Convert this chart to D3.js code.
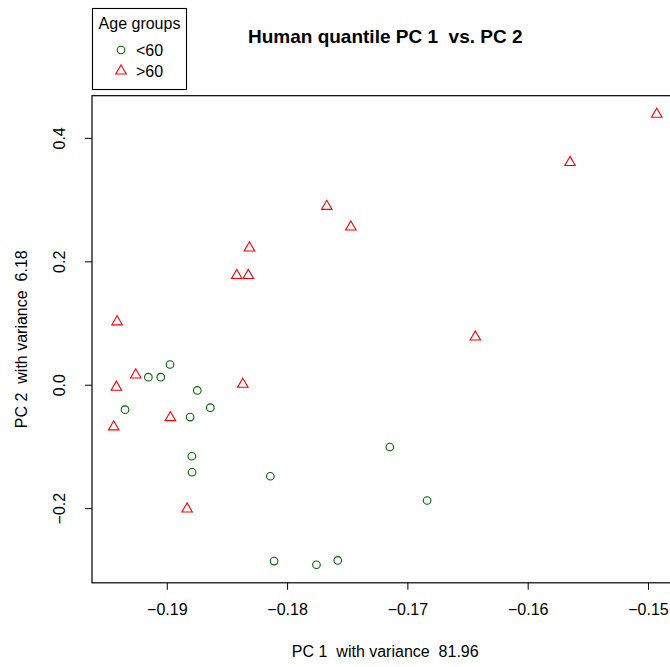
<!DOCTYPE html>
<html><head><meta charset="utf-8">
<script src="https://cdn.jsdelivr.net/npm/d3@7"></script>
<style>body{margin:0;background:#fff}svg{display:block}text{font-family:"Liberation Sans",Arial,sans-serif;white-space:pre}</style>
</head><body><div id="chart"></div>
<script>
const groups = ["<60", ">60"];
const groupColors = ["#006400", "#ff0000"];
const youngPC1 = [-0.19153,-0.19050,-0.18973,-0.18746,-0.19347,-0.18638,-0.18806,-0.18792,-0.18790,-0.18139,-0.18108,-0.17146,-0.16836,-0.17756,-0.17579];
const youngPC2 = [0.0123,0.0123,0.0328,-0.0092,-0.0404,-0.0372,-0.0524,-0.1159,-0.1418,-0.1483,-0.2857,-0.1009,-0.1876,-0.2917,-0.2846];
const oldPC1 = [-0.19413,-0.19258,-0.19419,-0.18368,-0.19441,-0.18970,-0.18831,-0.18313,-0.18418,-0.18322,-0.17670,-0.17470,-0.16435,-0.15648,-0.14927];
const oldPC2 = [0.1028,0.0167,-0.0032,0.0016,-0.0674,-0.0524,-0.2005,0.2225,0.1778,0.1778,0.2899,0.2564,0.0781,0.3610,0.4391];
const xTicks = [-0.19,-0.18,-0.17,-0.16,-0.15];
const yTicks = [-0.2,0.0,0.2,0.4];
const title = "Human quantile PC 1  vs. PC 2";
const xLabel = "PC 1  with variance  81.96";
const yLabel = "PC 2  with variance  6.18";

const W = 670, H = 667;
const L = 92, R = 678.5, T = 95.7, B = 582.8;
const svg = d3.select("#chart").append("svg").attr("width", W).attr("height", H);

const allX = youngPC1.concat(oldPC1), allY = youngPC2.concat(oldPC2);
function ext(a){const [lo,hi]=d3.extent(a);const p=(hi-lo)*0.04;return [lo-p,hi+p];}
const x = d3.scaleLinear().domain(ext(allX)).range([L, R]);
const y = d3.scaleLinear().domain(ext(allY)).range([B, T]);

// x axis
const xa = svg.append("g").attr("transform", `translate(0,${B})`)
  .call(d3.axisBottom(x).tickValues(xTicks).tickSize(7).tickPadding(14).tickFormat(d => (d<0?"\u2212":"") + Math.abs(d).toFixed(2)));
xa.select(".domain").remove();
xa.selectAll("text").attr("font-size", 16).attr("fill", "#000").style("font-family", "Liberation Sans, Arial, sans-serif");
xa.selectAll("line").attr("stroke", "#000");

// y axis
const ya = svg.append("g").attr("transform", `translate(${L},0)`)
  .call(d3.axisLeft(y).tickValues(yTicks).tickSize(7).tickFormat(d => (d<0?"\u2212":"") + Math.abs(d).toFixed(1)));
ya.select(".domain").remove();
ya.selectAll("line").attr("stroke", "#000");
ya.selectAll("text").attr("font-size", 16).attr("fill", "#000").style("font-family", "Liberation Sans, Arial, sans-serif")
  .attr("text-anchor", "middle").attr("dy", null).attr("x", null)
  .attr("transform", "translate(-27,0) rotate(-90)");

// box
svg.append("rect").attr("x", L).attr("y", T).attr("width", R - L).attr("height", B - T)
  .attr("fill", "none").attr("stroke", "#000").attr("stroke-width", 1.2);

const tri = d3.symbol().type(d3.symbolTriangle).size(48);
// points
svg.append("g").selectAll("circle").data(d3.range(youngPC1.length)).join("circle")
  .attr("cx", i => x(youngPC1[i])).attr("cy", i => y(youngPC2[i])).attr("r", 3.8)
  .attr("fill", "none").attr("stroke", groupColors[0]).attr("stroke-width", 1.1);
svg.append("g").selectAll("path").data(d3.range(oldPC1.length)).join("path")
  .attr("d", tri).attr("transform", i => `translate(${x(oldPC1[i])},${y(oldPC2[i])+0.5})`)
  .attr("fill", "none").attr("stroke", groupColors[1]).attr("stroke-width", 1.1);

// title & labels
svg.append("text").attr("x", (L + R) / 2).attr("y", 43).attr("text-anchor", "middle")
  .attr("font-size", 19).attr("font-weight", "bold").text(title);
svg.append("text").attr("x", (L + R) / 2).attr("y", 657).attr("text-anchor", "middle")
  .attr("font-size", 16).text(xLabel);
svg.append("text").attr("transform", `translate(27,${(T + B) / 2}) rotate(-90)`).attr("text-anchor", "middle")
  .attr("font-size", 16).text(yLabel);

// legend
const lg = svg.append("g");
lg.append("rect").attr("x", 92.5).attr("y", 8.5).attr("width", 94).attr("height", 81)
  .attr("fill", "#fff").attr("stroke", "#000").attr("stroke-width", 1.1);
lg.append("text").attr("x", 139.5).attr("y", 29).attr("text-anchor", "middle").attr("font-size", 16).text("Age groups");
groups.forEach((g, i) => {
  const yy = 50 + i * 21;
  if (i === 0) lg.append("circle").attr("cx", 121).attr("cy", yy).attr("r", 3.8)
      .attr("fill", "none").attr("stroke", groupColors[0]).attr("stroke-width", 1.1);
  else lg.append("path").attr("d", tri).attr("transform", `translate(121,${yy})`)
      .attr("fill", "none").attr("stroke", groupColors[1]).attr("stroke-width", 1.1);
  lg.append("text").attr("x", 136).attr("y", yy + 6).attr("font-size", 16).text(g);
});
</script></body></html>
